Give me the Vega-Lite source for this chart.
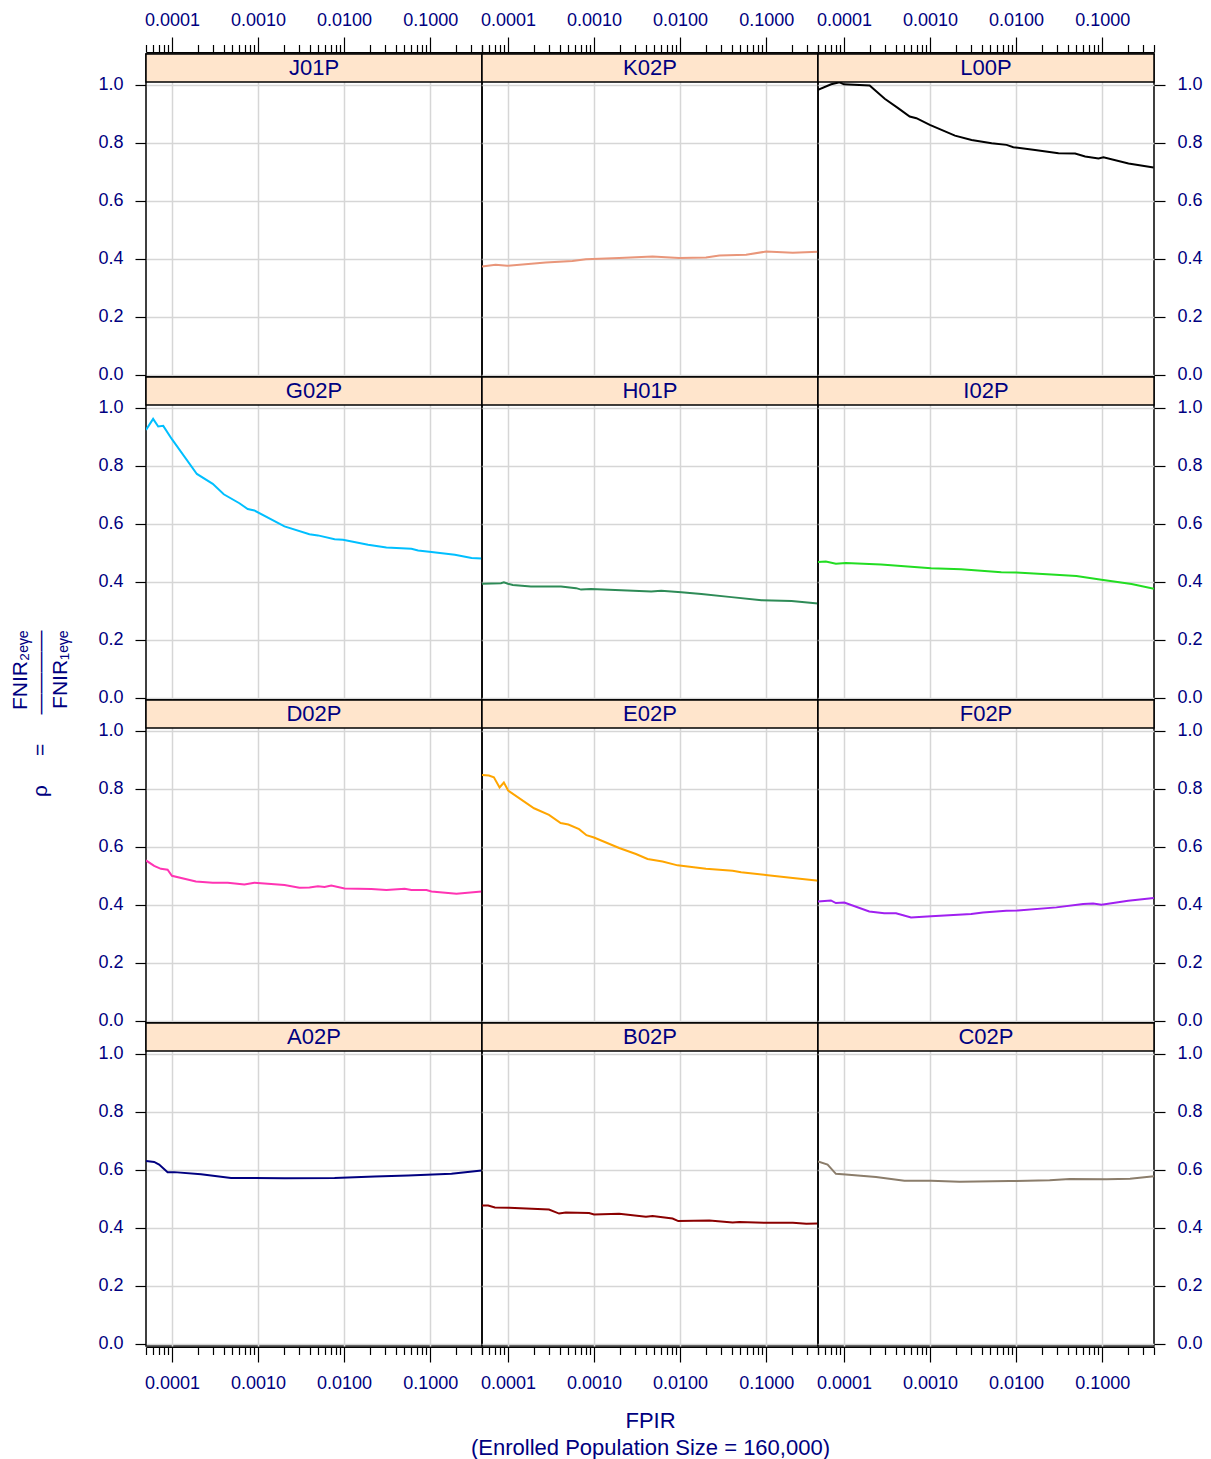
{
"$schema": "https://vega.github.io/schema/vega-lite/v6.json",
"padding": {"left": 10, "top": 10, "right": 5, "bottom": 0},
"autosize": {"type": "pad"},
"background": "white",
"title": {"text": ["FNIR₂ₑᵧₑ", "ρ\u00a0\u00a0\u00a0\u00a0\u00a0=\u00a0\u00a0\u00a0\u00a0\u00a0————", "FNIR₁ₑᵧₑ"], "orient": "left", "anchor": "middle", "align": "right", "dx": 104, "font": "Liberation Sans", "fontSize": 21, "fontWeight": "normal", "color": "#000080", "lineHeight": 20, "offset": 26},
"datasets": {"curves": [
{"panel":"K02P","fpir":0.00005,"rho":0.373},{"panel":"K02P","fpir":0.0000719,"rho":0.379},{"panel":"K02P","fpir":0.0000982,"rho":0.376},{"panel":"K02P","fpir":0.000275,"rho":0.387},{"panel":"K02P","fpir":0.000561,"rho":0.392},{"panel":"K02P","fpir":0.000804,"rho":0.398},{"panel":"K02P","fpir":0.00196,"rho":0.403},{"panel":"K02P","fpir":0.00479,"rho":0.408},{"panel":"K02P","fpir":0.00977,"rho":0.403},{"panel":"K02P","fpir":0.02,"rho":0.404},{"panel":"K02P","fpir":0.0286,"rho":0.411},{"panel":"K02P","fpir":0.0585,"rho":0.414},{"panel":"K02P","fpir":0.1,"rho":0.425},{"panel":"K02P","fpir":0.204,"rho":0.421},{"panel":"K02P","fpir":0.399,"rho":0.424},
{"panel":"L00P","fpir":0.00005,"rho":0.983},{"panel":"L00P","fpir":0.0000711,"rho":1.002},{"panel":"L00P","fpir":0.0000891,"rho":1.009},{"panel":"L00P","fpir":0.0001,"rho":1.002},{"panel":"L00P","fpir":0.000199,"rho":0.998},{"panel":"L00P","fpir":0.000298,"rho":0.952},{"panel":"L00P","fpir":0.000426,"rho":0.92},{"panel":"L00P","fpir":0.000581,"rho":0.891},{"panel":"L00P","fpir":0.000695,"rho":0.885},{"panel":"L00P","fpir":0.000995,"rho":0.862},{"panel":"L00P","fpir":0.00195,"rho":0.825},{"panel":"L00P","fpir":0.00304,"rho":0.81},{"panel":"L00P","fpir":0.0052,"rho":0.799},{"panel":"L00P","fpir":0.00776,"rho":0.793},{"panel":"L00P","fpir":0.00929,"rho":0.785},{"panel":"L00P","fpir":0.0166,"rho":0.775},{"panel":"L00P","fpir":0.0311,"rho":0.764},{"panel":"L00P","fpir":0.0485,"rho":0.763},{"panel":"L00P","fpir":0.0634,"rho":0.753},{"panel":"L00P","fpir":0.0906,"rho":0.746},{"panel":"L00P","fpir":0.1035,"rho":0.75},{"panel":"L00P","fpir":0.2023,"rho":0.729},{"panel":"L00P","fpir":0.3954,"rho":0.715},
{"panel":"G02P","fpir":0.00005,"rho":0.924},{"panel":"G02P","fpir":0.0000605,"rho":0.962},{"panel":"G02P","fpir":0.0000693,"rho":0.936},{"panel":"G02P","fpir":0.0000793,"rho":0.938},{"panel":"G02P","fpir":0.0001,"rho":0.892},{"panel":"G02P","fpir":0.000195,"rho":0.772},{"panel":"G02P","fpir":0.000298,"rho":0.738},{"panel":"G02P","fpir":0.0004,"rho":0.702},{"panel":"G02P","fpir":0.000608,"rho":0.671},{"panel":"G02P","fpir":0.00076,"rho":0.651},{"panel":"G02P","fpir":0.000908,"rho":0.646},{"panel":"G02P","fpir":0.00203,"rho":0.591},{"panel":"G02P","fpir":0.00396,"rho":0.564},{"panel":"G02P","fpir":0.00497,"rho":0.56},{"panel":"G02P","fpir":0.00776,"rho":0.547},{"panel":"G02P","fpir":0.0097,"rho":0.545},{"panel":"G02P","fpir":0.019,"rho":0.528},{"panel":"G02P","fpir":0.031,"rho":0.518},{"panel":"G02P","fpir":0.0605,"rho":0.514},{"panel":"G02P","fpir":0.0724,"rho":0.508},{"panel":"G02P","fpir":0.1035,"rho":0.503},{"panel":"G02P","fpir":0.1936,"rho":0.493},{"panel":"G02P","fpir":0.3027,"rho":0.482},{"panel":"G02P","fpir":0.3954,"rho":0.48},
{"panel":"H01P","fpir":0.00005,"rho":0.393},{"panel":"H01P","fpir":0.000083,"rho":0.395},{"panel":"H01P","fpir":0.0000897,"rho":0.398},{"panel":"H01P","fpir":0.0001,"rho":0.393},{"panel":"H01P","fpir":0.000114,"rho":0.389},{"panel":"H01P","fpir":0.000185,"rho":0.384},{"panel":"H01P","fpir":0.000414,"rho":0.384},{"panel":"H01P","fpir":0.000619,"rho":0.378},{"panel":"H01P","fpir":0.000708,"rho":0.373},{"panel":"H01P","fpir":0.000925,"rho":0.375},{"panel":"H01P","fpir":0.00207,"rho":0.371},{"panel":"H01P","fpir":0.00462,"rho":0.366},{"panel":"H01P","fpir":0.00604,"rho":0.369},{"panel":"H01P","fpir":0.01033,"rho":0.364},{"panel":"H01P","fpir":0.01766,"rho":0.358},{"panel":"H01P","fpir":0.03945,"rho":0.347},{"panel":"H01P","fpir":0.08831,"rho":0.336},{"panel":"H01P","fpir":0.1972,"rho":0.334},{"panel":"H01P","fpir":0.4,"rho":0.325},
{"panel":"I02P","fpir":0.00005,"rho":0.468},{"panel":"I02P","fpir":0.0000617,"rho":0.47},{"panel":"I02P","fpir":0.0000807,"rho":0.462},{"panel":"I02P","fpir":0.000105,"rho":0.465},{"panel":"I02P","fpir":0.00027,"rho":0.46},{"panel":"I02P","fpir":0.00103,"rho":0.447},{"panel":"I02P","fpir":0.0023,"rho":0.443},{"panel":"I02P","fpir":0.00673,"rho":0.433},{"panel":"I02P","fpir":0.01005,"rho":0.432},{"panel":"I02P","fpir":0.0257,"rho":0.425},{"panel":"I02P","fpir":0.0502,"rho":0.42},{"panel":"I02P","fpir":0.0982,"rho":0.407},{"panel":"I02P","fpir":0.2193,"rho":0.392},{"panel":"I02P","fpir":0.4,"rho":0.376},
{"panel":"D02P","fpir":0.00005,"rho":0.553},{"panel":"D02P","fpir":0.0000622,"rho":0.534},{"panel":"D02P","fpir":0.0000745,"rho":0.524},{"panel":"D02P","fpir":0.0000891,"rho":0.521},{"panel":"D02P","fpir":0.0001,"rho":0.5},{"panel":"D02P","fpir":0.00019,"rho":0.48},{"panel":"D02P","fpir":0.000298,"rho":0.476},{"panel":"D02P","fpir":0.000445,"rho":0.476},{"panel":"D02P","fpir":0.000695,"rho":0.47},{"panel":"D02P","fpir":0.000908,"rho":0.476},{"panel":"D02P","fpir":0.00203,"rho":0.468},{"panel":"D02P","fpir":0.00303,"rho":0.459},{"panel":"D02P","fpir":0.00396,"rho":0.46},{"panel":"D02P","fpir":0.00497,"rho":0.464},{"panel":"D02P","fpir":0.00593,"rho":0.461},{"panel":"D02P","fpir":0.0071,"rho":0.466},{"panel":"D02P","fpir":0.01014,"rho":0.456},{"panel":"D02P","fpir":0.02075,"rho":0.454},{"panel":"D02P","fpir":0.031,"rho":0.451},{"panel":"D02P","fpir":0.0506,"rho":0.455},{"panel":"D02P","fpir":0.0605,"rho":0.451},{"panel":"D02P","fpir":0.0906,"rho":0.451},{"panel":"D02P","fpir":0.1035,"rho":0.446},{"panel":"D02P","fpir":0.2023,"rho":0.438},{"panel":"D02P","fpir":0.3954,"rho":0.446},
{"panel":"E02P","fpir":0.00005,"rho":0.848},{"panel":"E02P","fpir":0.0000601,"rho":0.846},{"panel":"E02P","fpir":0.0000687,"rho":0.84},{"panel":"E02P","fpir":0.00008,"rho":0.805},{"panel":"E02P","fpir":0.0000897,"rho":0.822},{"panel":"E02P","fpir":0.0001007,"rho":0.794},{"panel":"E02P","fpir":0.000201,"rho":0.733},{"panel":"E02P","fpir":0.0003,"rho":0.71},{"panel":"E02P","fpir":0.00041,"rho":0.682},{"panel":"E02P","fpir":0.000504,"rho":0.677},{"panel":"E02P","fpir":0.000671,"rho":0.661},{"panel":"E02P","fpir":0.000817,"rho":0.64},{"panel":"E02P","fpir":0.001,"rho":0.632},{"panel":"E02P","fpir":0.00196,"rho":0.596},{"panel":"E02P","fpir":0.00307,"rho":0.575},{"panel":"E02P","fpir":0.00419,"rho":0.558},{"panel":"E02P","fpir":0.00625,"rho":0.549},{"panel":"E02P","fpir":0.00935,"rho":0.536},{"panel":"E02P","fpir":0.02,"rho":0.524},{"panel":"E02P","fpir":0.0408,"rho":0.517},{"panel":"E02P","fpir":0.0512,"rho":0.512},{"panel":"E02P","fpir":0.1045,"rho":0.502},{"panel":"E02P","fpir":0.2042,"rho":0.492},{"panel":"E02P","fpir":0.382,"rho":0.484},{"panel":"E02P","fpir":0.4,"rho":0.483},
{"panel":"F02P","fpir":0.00005,"rho":0.411},{"panel":"F02P","fpir":0.0000706,"rho":0.415},{"panel":"F02P","fpir":0.0000807,"rho":0.406},{"panel":"F02P","fpir":0.000101,"rho":0.408},{"panel":"F02P","fpir":0.000197,"rho":0.377},{"panel":"F02P","fpir":0.000294,"rho":0.371},{"panel":"F02P","fpir":0.000403,"rho":0.371},{"panel":"F02P","fpir":0.000603,"rho":0.356},{"panel":"F02P","fpir":0.00103,"rho":0.36},{"panel":"F02P","fpir":0.00301,"rho":0.368},{"panel":"F02P","fpir":0.00412,"rho":0.373},{"panel":"F02P","fpir":0.00769,"rho":0.379},{"panel":"F02P","fpir":0.01052,"rho":0.38},{"panel":"F02P","fpir":0.0294,"rho":0.391},{"panel":"F02P","fpir":0.0601,"rho":0.403},{"panel":"F02P","fpir":0.0785,"rho":0.404},{"panel":"F02P","fpir":0.0982,"rho":0.4},{"panel":"F02P","fpir":0.2004,"rho":0.414},{"panel":"F02P","fpir":0.398,"rho":0.423},
{"panel":"A02P","fpir":0.00005,"rho":0.63},{"panel":"A02P","fpir":0.0000622,"rho":0.627},{"panel":"A02P","fpir":0.0000711,"rho":0.618},{"panel":"A02P","fpir":0.0000891,"rho":0.592},{"panel":"A02P","fpir":0.000106,"rho":0.592},{"panel":"A02P","fpir":0.000218,"rho":0.585},{"panel":"A02P","fpir":0.000486,"rho":0.572},{"panel":"A02P","fpir":0.000908,"rho":0.572},{"panel":"A02P","fpir":0.00203,"rho":0.571},{"panel":"A02P","fpir":0.00776,"rho":0.572},{"panel":"A02P","fpir":0.0227,"rho":0.577},{"panel":"A02P","fpir":0.0555,"rho":0.58},{"panel":"A02P","fpir":0.177,"rho":0.586},{"panel":"A02P","fpir":0.3954,"rho":0.598},
{"panel":"B02P","fpir":0.00005,"rho":0.477},{"panel":"B02P","fpir":0.000059,"rho":0.477},{"panel":"B02P","fpir":0.0000706,"rho":0.47},{"panel":"B02P","fpir":0.000103,"rho":0.469},{"panel":"B02P","fpir":0.0003,"rho":0.463},{"panel":"B02P","fpir":0.000393,"rho":0.449},{"panel":"B02P","fpir":0.00047,"rho":0.453},{"panel":"B02P","fpir":0.000877,"rho":0.451},{"panel":"B02P","fpir":0.001,"rho":0.446},{"panel":"B02P","fpir":0.00196,"rho":0.448},{"panel":"B02P","fpir":0.00401,"rho":0.438},{"panel":"B02P","fpir":0.00479,"rho":0.441},{"panel":"B02P","fpir":0.00818,"rho":0.432},{"panel":"B02P","fpir":0.00953,"rho":0.423},{"panel":"B02P","fpir":0.02188,"rho":0.425},{"panel":"B02P","fpir":0.0408,"rho":0.418},{"panel":"B02P","fpir":0.0489,"rho":0.42},{"panel":"B02P","fpir":0.1,"rho":0.417},{"panel":"B02P","fpir":0.2042,"rho":0.417},{"panel":"B02P","fpir":0.2924,"rho":0.414},{"panel":"B02P","fpir":0.399,"rho":0.415},
{"panel":"C02P","fpir":0.00005,"rho":0.629},{"panel":"C02P","fpir":0.0000646,"rho":0.618},{"panel":"C02P","fpir":0.0000807,"rho":0.586},{"panel":"C02P","fpir":0.000105,"rho":0.584},{"panel":"C02P","fpir":0.000236,"rho":0.575},{"panel":"C02P","fpir":0.000504,"rho":0.562},{"panel":"C02P","fpir":0.00103,"rho":0.562},{"panel":"C02P","fpir":0.0022,"rho":0.559},{"panel":"C02P","fpir":0.00839,"rho":0.561},{"panel":"C02P","fpir":0.02455,"rho":0.564},{"panel":"C02P","fpir":0.042,"rho":0.568},{"panel":"C02P","fpir":0.1125,"rho":0.567},{"panel":"C02P","fpir":0.2104,"rho":0.569},{"panel":"C02P","fpir":0.4,"rho":0.578}
]},
"spacing": 0,
"bounds": "flush",
"columns": 3,
"concat": [
 {"width": 336, "height": 323, "layer": [
  {"data": {"name": "curves"}, "transform": [{"filter": "datum.panel === 'J01P'"}], "mark": {"type": "line", "color": "#000000", "clip": true},
   "encoding": {"x": {"field": "fpir", "type": "quantitative", "scale": {"type": "log", "domain": [0.00005, 0.4], "nice": false}, "axis": {"orient": "top", "title": null, "values": [0.00005,0.00006,0.00007,0.00008,0.00009,0.0001,0.0002,0.0003,0.0004,0.0005,0.0006,0.0007,0.0008,0.0009,0.001,0.002,0.003,0.004,0.005,0.006,0.007,0.008,0.009,0.01,0.02,0.03,0.04,0.05,0.06,0.07,0.08,0.09,0.1,0.2,0.3,0.4], "format": ".4f", "labelExpr": "abs(log(datum.value)/LN10-round(log(datum.value)/LN10))<0.001 ? datum.label : ''", "tickSize": {"condition": {"test": "abs(log(datum.value)/LN10-round(log(datum.value)/LN10))<0.001", "value": 15}, "value": 7.5}, "gridOpacity": {"condition": {"test": "abs(log(datum.value)/LN10-round(log(datum.value)/LN10))<0.001", "value": 1}, "value": 0}, "grid": true, "domain": true, "offset": 2, "labelPadding": 8}},
    "y": {"field": "rho", "type": "quantitative", "scale": {"domain": [-0.008, 1.1066], "nice": false, "zero": false}, "axis": {"orient": "left", "title": null, "values": [0,0.1,0.2,0.3,0.4,0.5,0.6,0.7,0.8,0.9,1], "labelExpr": "round(datum.value*10)%2==0 ? format(datum.value,'.1f') : ''", "tickOpacity": {"condition": {"test": "round(datum.value*10)%2==1", "value": 0}, "value": 1}, "tickSize": 11, "labelPadding": 12, "grid": true, "domain": false}}}},
  {"data": {"values": [{"panel": "J01P"}]}, "mark": {"type": "rect", "fill": "#ffe5cc", "stroke": "#000000", "strokeWidth": 1.5}, "encoding": {"x": {"datum": 0.00005}, "x2": {"datum": 0.4}, "y": {"datum": 1.01}, "y2": {"datum": 1.1066}}},
  {"data": {"values": [{"panel": "J01P"}]}, "mark": {"type": "text", "color": "#000080", "fontSize": 22, "baseline": "middle", "align": "center"}, "encoding": {"x": {"datum": 0.004472}, "y": {"datum": 1.058}, "text": {"field": "panel", "type": "nominal"}}}
 ]},
 {"width": 336, "height": 323, "layer": [
  {"data": {"name": "curves"}, "transform": [{"filter": "datum.panel === 'K02P'"}], "mark": {"type": "line", "color": "#e9967a", "clip": true},
   "encoding": {"x": {"field": "fpir", "type": "quantitative", "scale": {"type": "log", "domain": [0.00005, 0.4], "nice": false}, "axis": {"orient": "top", "title": null, "values": [0.00005,0.00006,0.00007,0.00008,0.00009,0.0001,0.0002,0.0003,0.0004,0.0005,0.0006,0.0007,0.0008,0.0009,0.001,0.002,0.003,0.004,0.005,0.006,0.007,0.008,0.009,0.01,0.02,0.03,0.04,0.05,0.06,0.07,0.08,0.09,0.1,0.2,0.3,0.4], "format": ".4f", "labelExpr": "abs(log(datum.value)/LN10-round(log(datum.value)/LN10))<0.001 ? datum.label : ''", "tickSize": {"condition": {"test": "abs(log(datum.value)/LN10-round(log(datum.value)/LN10))<0.001", "value": 15}, "value": 7.5}, "gridOpacity": {"condition": {"test": "abs(log(datum.value)/LN10-round(log(datum.value)/LN10))<0.001", "value": 1}, "value": 0}, "grid": true, "domain": true, "offset": 2, "labelPadding": 8}},
    "y": {"field": "rho", "type": "quantitative", "scale": {"domain": [-0.008, 1.1066], "nice": false, "zero": false}, "axis": {"orient": "left", "title": null, "values": [0,0.1,0.2,0.3,0.4,0.5,0.6,0.7,0.8,0.9,1], "labels": false, "ticks": false, "grid": true, "domain": false}}}},
  {"data": {"values": [{"panel": "K02P"}]}, "mark": {"type": "rect", "fill": "#ffe5cc", "stroke": "#000000", "strokeWidth": 1.5}, "encoding": {"x": {"datum": 0.00005}, "x2": {"datum": 0.4}, "y": {"datum": 1.01}, "y2": {"datum": 1.1066}}},
  {"data": {"values": [{"panel": "K02P"}]}, "mark": {"type": "text", "color": "#000080", "fontSize": 22, "baseline": "middle", "align": "center"}, "encoding": {"x": {"datum": 0.004472}, "y": {"datum": 1.058}, "text": {"field": "panel", "type": "nominal"}}}
 ]},
 {"width": 336, "height": 323, "layer": [
  {"data": {"name": "curves"}, "transform": [{"filter": "datum.panel === 'L00P'"}], "mark": {"type": "line", "color": "#000000", "clip": true},
   "encoding": {"x": {"field": "fpir", "type": "quantitative", "scale": {"type": "log", "domain": [0.00005, 0.4], "nice": false}, "axis": {"orient": "top", "title": null, "values": [0.00005,0.00006,0.00007,0.00008,0.00009,0.0001,0.0002,0.0003,0.0004,0.0005,0.0006,0.0007,0.0008,0.0009,0.001,0.002,0.003,0.004,0.005,0.006,0.007,0.008,0.009,0.01,0.02,0.03,0.04,0.05,0.06,0.07,0.08,0.09,0.1,0.2,0.3,0.4], "format": ".4f", "labelExpr": "abs(log(datum.value)/LN10-round(log(datum.value)/LN10))<0.001 ? datum.label : ''", "tickSize": {"condition": {"test": "abs(log(datum.value)/LN10-round(log(datum.value)/LN10))<0.001", "value": 15}, "value": 7.5}, "gridOpacity": {"condition": {"test": "abs(log(datum.value)/LN10-round(log(datum.value)/LN10))<0.001", "value": 1}, "value": 0}, "grid": true, "domain": true, "offset": 2, "labelPadding": 8}},
    "y": {"field": "rho", "type": "quantitative", "scale": {"domain": [-0.008, 1.1066], "nice": false, "zero": false}, "axis": {"orient": "right", "title": null, "values": [0,0.1,0.2,0.3,0.4,0.5,0.6,0.7,0.8,0.9,1], "labelExpr": "round(datum.value*10)%2==0 ? format(datum.value,'.1f') : ''", "tickOpacity": {"condition": {"test": "round(datum.value*10)%2==1", "value": 0}, "value": 1}, "tickSize": 11, "labelPadding": 12, "grid": true, "domain": false}}}},
  {"data": {"values": [{"panel": "L00P"}]}, "mark": {"type": "rect", "fill": "#ffe5cc", "stroke": "#000000", "strokeWidth": 1.5}, "encoding": {"x": {"datum": 0.00005}, "x2": {"datum": 0.4}, "y": {"datum": 1.01}, "y2": {"datum": 1.1066}}},
  {"data": {"values": [{"panel": "L00P"}]}, "mark": {"type": "text", "color": "#000080", "fontSize": 22, "baseline": "middle", "align": "center"}, "encoding": {"x": {"datum": 0.004472}, "y": {"datum": 1.058}, "text": {"field": "panel", "type": "nominal"}}}
 ]},
 {"width": 336, "height": 323, "layer": [
  {"data": {"name": "curves"}, "transform": [{"filter": "datum.panel === 'G02P'"}], "mark": {"type": "line", "color": "#00bfff", "clip": true},
   "encoding": {"x": {"field": "fpir", "type": "quantitative", "scale": {"type": "log", "domain": [0.00005, 0.4], "nice": false}, "axis": {"orient": "bottom", "title": null, "values": [0.0001,0.001,0.01,0.1], "labels": false, "ticks": false, "domain": false, "grid": true}},
    "y": {"field": "rho", "type": "quantitative", "scale": {"domain": [-0.008, 1.1066], "nice": false, "zero": false}, "axis": {"orient": "left", "title": null, "values": [0,0.1,0.2,0.3,0.4,0.5,0.6,0.7,0.8,0.9,1], "labelExpr": "round(datum.value*10)%2==0 ? format(datum.value,'.1f') : ''", "tickOpacity": {"condition": {"test": "round(datum.value*10)%2==1", "value": 0}, "value": 1}, "tickSize": 11, "labelPadding": 12, "grid": true, "domain": false}}}},
  {"data": {"values": [{"panel": "G02P"}]}, "mark": {"type": "rect", "fill": "#ffe5cc", "stroke": "#000000", "strokeWidth": 1.5}, "encoding": {"x": {"datum": 0.00005}, "x2": {"datum": 0.4}, "y": {"datum": 1.01}, "y2": {"datum": 1.1066}}},
  {"data": {"values": [{"panel": "G02P"}]}, "mark": {"type": "text", "color": "#000080", "fontSize": 22, "baseline": "middle", "align": "center"}, "encoding": {"x": {"datum": 0.004472}, "y": {"datum": 1.058}, "text": {"field": "panel", "type": "nominal"}}}
 ]},
 {"width": 336, "height": 323, "layer": [
  {"data": {"name": "curves"}, "transform": [{"filter": "datum.panel === 'H01P'"}], "mark": {"type": "line", "color": "#2e8b57", "clip": true},
   "encoding": {"x": {"field": "fpir", "type": "quantitative", "scale": {"type": "log", "domain": [0.00005, 0.4], "nice": false}, "axis": {"orient": "bottom", "title": null, "values": [0.0001,0.001,0.01,0.1], "labels": false, "ticks": false, "domain": false, "grid": true}},
    "y": {"field": "rho", "type": "quantitative", "scale": {"domain": [-0.008, 1.1066], "nice": false, "zero": false}, "axis": {"orient": "left", "title": null, "values": [0,0.1,0.2,0.3,0.4,0.5,0.6,0.7,0.8,0.9,1], "labels": false, "ticks": false, "grid": true, "domain": false}}}},
  {"data": {"values": [{"panel": "H01P"}]}, "mark": {"type": "rect", "fill": "#ffe5cc", "stroke": "#000000", "strokeWidth": 1.5}, "encoding": {"x": {"datum": 0.00005}, "x2": {"datum": 0.4}, "y": {"datum": 1.01}, "y2": {"datum": 1.1066}}},
  {"data": {"values": [{"panel": "H01P"}]}, "mark": {"type": "text", "color": "#000080", "fontSize": 22, "baseline": "middle", "align": "center"}, "encoding": {"x": {"datum": 0.004472}, "y": {"datum": 1.058}, "text": {"field": "panel", "type": "nominal"}}}
 ]},
 {"width": 336, "height": 323, "layer": [
  {"data": {"name": "curves"}, "transform": [{"filter": "datum.panel === 'I02P'"}], "mark": {"type": "line", "color": "#22dd22", "clip": true},
   "encoding": {"x": {"field": "fpir", "type": "quantitative", "scale": {"type": "log", "domain": [0.00005, 0.4], "nice": false}, "axis": {"orient": "bottom", "title": null, "values": [0.0001,0.001,0.01,0.1], "labels": false, "ticks": false, "domain": false, "grid": true}},
    "y": {"field": "rho", "type": "quantitative", "scale": {"domain": [-0.008, 1.1066], "nice": false, "zero": false}, "axis": {"orient": "right", "title": null, "values": [0,0.1,0.2,0.3,0.4,0.5,0.6,0.7,0.8,0.9,1], "labelExpr": "round(datum.value*10)%2==0 ? format(datum.value,'.1f') : ''", "tickOpacity": {"condition": {"test": "round(datum.value*10)%2==1", "value": 0}, "value": 1}, "tickSize": 11, "labelPadding": 12, "grid": true, "domain": false}}}},
  {"data": {"values": [{"panel": "I02P"}]}, "mark": {"type": "rect", "fill": "#ffe5cc", "stroke": "#000000", "strokeWidth": 1.5}, "encoding": {"x": {"datum": 0.00005}, "x2": {"datum": 0.4}, "y": {"datum": 1.01}, "y2": {"datum": 1.1066}}},
  {"data": {"values": [{"panel": "I02P"}]}, "mark": {"type": "text", "color": "#000080", "fontSize": 22, "baseline": "middle", "align": "center"}, "encoding": {"x": {"datum": 0.004472}, "y": {"datum": 1.058}, "text": {"field": "panel", "type": "nominal"}}}
 ]},
 {"width": 336, "height": 323, "layer": [
  {"data": {"name": "curves"}, "transform": [{"filter": "datum.panel === 'D02P'"}], "mark": {"type": "line", "color": "#ff34b3", "clip": true},
   "encoding": {"x": {"field": "fpir", "type": "quantitative", "scale": {"type": "log", "domain": [0.00005, 0.4], "nice": false}, "axis": {"orient": "bottom", "title": null, "values": [0.0001,0.001,0.01,0.1], "labels": false, "ticks": false, "domain": false, "grid": true}},
    "y": {"field": "rho", "type": "quantitative", "scale": {"domain": [-0.008, 1.1066], "nice": false, "zero": false}, "axis": {"orient": "left", "title": null, "values": [0,0.1,0.2,0.3,0.4,0.5,0.6,0.7,0.8,0.9,1], "labelExpr": "round(datum.value*10)%2==0 ? format(datum.value,'.1f') : ''", "tickOpacity": {"condition": {"test": "round(datum.value*10)%2==1", "value": 0}, "value": 1}, "tickSize": 11, "labelPadding": 12, "grid": true, "domain": false}}}},
  {"data": {"values": [{"panel": "D02P"}]}, "mark": {"type": "rect", "fill": "#ffe5cc", "stroke": "#000000", "strokeWidth": 1.5}, "encoding": {"x": {"datum": 0.00005}, "x2": {"datum": 0.4}, "y": {"datum": 1.01}, "y2": {"datum": 1.1066}}},
  {"data": {"values": [{"panel": "D02P"}]}, "mark": {"type": "text", "color": "#000080", "fontSize": 22, "baseline": "middle", "align": "center"}, "encoding": {"x": {"datum": 0.004472}, "y": {"datum": 1.058}, "text": {"field": "panel", "type": "nominal"}}}
 ]},
 {"width": 336, "height": 323, "layer": [
  {"data": {"name": "curves"}, "transform": [{"filter": "datum.panel === 'E02P'"}], "mark": {"type": "line", "color": "#ffa500", "clip": true},
   "encoding": {"x": {"field": "fpir", "type": "quantitative", "scale": {"type": "log", "domain": [0.00005, 0.4], "nice": false}, "axis": {"orient": "bottom", "title": null, "values": [0.0001,0.001,0.01,0.1], "labels": false, "ticks": false, "domain": false, "grid": true}},
    "y": {"field": "rho", "type": "quantitative", "scale": {"domain": [-0.008, 1.1066], "nice": false, "zero": false}, "axis": {"orient": "left", "title": null, "values": [0,0.1,0.2,0.3,0.4,0.5,0.6,0.7,0.8,0.9,1], "labels": false, "ticks": false, "grid": true, "domain": false}}}},
  {"data": {"values": [{"panel": "E02P"}]}, "mark": {"type": "rect", "fill": "#ffe5cc", "stroke": "#000000", "strokeWidth": 1.5}, "encoding": {"x": {"datum": 0.00005}, "x2": {"datum": 0.4}, "y": {"datum": 1.01}, "y2": {"datum": 1.1066}}},
  {"data": {"values": [{"panel": "E02P"}]}, "mark": {"type": "text", "color": "#000080", "fontSize": 22, "baseline": "middle", "align": "center"}, "encoding": {"x": {"datum": 0.004472}, "y": {"datum": 1.058}, "text": {"field": "panel", "type": "nominal"}}}
 ]},
 {"width": 336, "height": 323, "layer": [
  {"data": {"name": "curves"}, "transform": [{"filter": "datum.panel === 'F02P'"}], "mark": {"type": "line", "color": "#a020f0", "clip": true},
   "encoding": {"x": {"field": "fpir", "type": "quantitative", "scale": {"type": "log", "domain": [0.00005, 0.4], "nice": false}, "axis": {"orient": "bottom", "title": null, "values": [0.0001,0.001,0.01,0.1], "labels": false, "ticks": false, "domain": false, "grid": true}},
    "y": {"field": "rho", "type": "quantitative", "scale": {"domain": [-0.008, 1.1066], "nice": false, "zero": false}, "axis": {"orient": "right", "title": null, "values": [0,0.1,0.2,0.3,0.4,0.5,0.6,0.7,0.8,0.9,1], "labelExpr": "round(datum.value*10)%2==0 ? format(datum.value,'.1f') : ''", "tickOpacity": {"condition": {"test": "round(datum.value*10)%2==1", "value": 0}, "value": 1}, "tickSize": 11, "labelPadding": 12, "grid": true, "domain": false}}}},
  {"data": {"values": [{"panel": "F02P"}]}, "mark": {"type": "rect", "fill": "#ffe5cc", "stroke": "#000000", "strokeWidth": 1.5}, "encoding": {"x": {"datum": 0.00005}, "x2": {"datum": 0.4}, "y": {"datum": 1.01}, "y2": {"datum": 1.1066}}},
  {"data": {"values": [{"panel": "F02P"}]}, "mark": {"type": "text", "color": "#000080", "fontSize": 22, "baseline": "middle", "align": "center"}, "encoding": {"x": {"datum": 0.004472}, "y": {"datum": 1.058}, "text": {"field": "panel", "type": "nominal"}}}
 ]},
 {"width": 336, "height": 323, "layer": [
  {"data": {"name": "curves"}, "transform": [{"filter": "datum.panel === 'A02P'"}], "mark": {"type": "line", "color": "#000080", "clip": true},
   "encoding": {"x": {"field": "fpir", "type": "quantitative", "scale": {"type": "log", "domain": [0.00005, 0.4], "nice": false}, "axis": {"orient": "bottom", "title": null, "values": [0.00005,0.00006,0.00007,0.00008,0.00009,0.0001,0.0002,0.0003,0.0004,0.0005,0.0006,0.0007,0.0008,0.0009,0.001,0.002,0.003,0.004,0.005,0.006,0.007,0.008,0.009,0.01,0.02,0.03,0.04,0.05,0.06,0.07,0.08,0.09,0.1,0.2,0.3,0.4], "format": ".4f", "labelExpr": "abs(log(datum.value)/LN10-round(log(datum.value)/LN10))<0.001 ? datum.label : ''", "tickSize": {"condition": {"test": "abs(log(datum.value)/LN10-round(log(datum.value)/LN10))<0.001", "value": 15}, "value": 7.5}, "gridOpacity": {"condition": {"test": "abs(log(datum.value)/LN10-round(log(datum.value)/LN10))<0.001", "value": 1}, "value": 0}, "grid": true, "domain": true, "offset": 1, "labelPadding": 12}},
    "y": {"field": "rho", "type": "quantitative", "scale": {"domain": [-0.008, 1.1066], "nice": false, "zero": false}, "axis": {"orient": "left", "title": null, "values": [0,0.1,0.2,0.3,0.4,0.5,0.6,0.7,0.8,0.9,1], "labelExpr": "round(datum.value*10)%2==0 ? format(datum.value,'.1f') : ''", "tickOpacity": {"condition": {"test": "round(datum.value*10)%2==1", "value": 0}, "value": 1}, "tickSize": 11, "labelPadding": 12, "grid": true, "domain": false}}}},
  {"data": {"values": [{"panel": "A02P"}]}, "mark": {"type": "rect", "fill": "#ffe5cc", "stroke": "#000000", "strokeWidth": 1.5}, "encoding": {"x": {"datum": 0.00005}, "x2": {"datum": 0.4}, "y": {"datum": 1.01}, "y2": {"datum": 1.1066}}},
  {"data": {"values": [{"panel": "A02P"}]}, "mark": {"type": "text", "color": "#000080", "fontSize": 22, "baseline": "middle", "align": "center"}, "encoding": {"x": {"datum": 0.004472}, "y": {"datum": 1.058}, "text": {"field": "panel", "type": "nominal"}}}
 ]},
 {"width": 336, "height": 323, "layer": [
  {"data": {"name": "curves"}, "transform": [{"filter": "datum.panel === 'B02P'"}], "mark": {"type": "line", "color": "#8b0000", "clip": true},
   "encoding": {"x": {"field": "fpir", "type": "quantitative", "scale": {"type": "log", "domain": [0.00005, 0.4], "nice": false}, "axis": {"orient": "bottom", "title": ["FPIR", "(Enrolled Population Size = 160,000)"], "titlePadding": 18, "titleLineHeight": 27, "values": [0.00005,0.00006,0.00007,0.00008,0.00009,0.0001,0.0002,0.0003,0.0004,0.0005,0.0006,0.0007,0.0008,0.0009,0.001,0.002,0.003,0.004,0.005,0.006,0.007,0.008,0.009,0.01,0.02,0.03,0.04,0.05,0.06,0.07,0.08,0.09,0.1,0.2,0.3,0.4], "format": ".4f", "labelExpr": "abs(log(datum.value)/LN10-round(log(datum.value)/LN10))<0.001 ? datum.label : ''", "tickSize": {"condition": {"test": "abs(log(datum.value)/LN10-round(log(datum.value)/LN10))<0.001", "value": 15}, "value": 7.5}, "gridOpacity": {"condition": {"test": "abs(log(datum.value)/LN10-round(log(datum.value)/LN10))<0.001", "value": 1}, "value": 0}, "grid": true, "domain": true, "offset": 1, "labelPadding": 12}},
    "y": {"field": "rho", "type": "quantitative", "scale": {"domain": [-0.008, 1.1066], "nice": false, "zero": false}, "axis": {"orient": "left", "title": null, "values": [0,0.1,0.2,0.3,0.4,0.5,0.6,0.7,0.8,0.9,1], "labels": false, "ticks": false, "grid": true, "domain": false}}}},
  {"data": {"values": [{"panel": "B02P"}]}, "mark": {"type": "rect", "fill": "#ffe5cc", "stroke": "#000000", "strokeWidth": 1.5}, "encoding": {"x": {"datum": 0.00005}, "x2": {"datum": 0.4}, "y": {"datum": 1.01}, "y2": {"datum": 1.1066}}},
  {"data": {"values": [{"panel": "B02P"}]}, "mark": {"type": "text", "color": "#000080", "fontSize": 22, "baseline": "middle", "align": "center"}, "encoding": {"x": {"datum": 0.004472}, "y": {"datum": 1.058}, "text": {"field": "panel", "type": "nominal"}}}
 ]},
 {"width": 336, "height": 323, "layer": [
  {"data": {"name": "curves"}, "transform": [{"filter": "datum.panel === 'C02P'"}], "mark": {"type": "line", "color": "#8b7d6b", "clip": true},
   "encoding": {"x": {"field": "fpir", "type": "quantitative", "scale": {"type": "log", "domain": [0.00005, 0.4], "nice": false}, "axis": {"orient": "bottom", "title": null, "values": [0.00005,0.00006,0.00007,0.00008,0.00009,0.0001,0.0002,0.0003,0.0004,0.0005,0.0006,0.0007,0.0008,0.0009,0.001,0.002,0.003,0.004,0.005,0.006,0.007,0.008,0.009,0.01,0.02,0.03,0.04,0.05,0.06,0.07,0.08,0.09,0.1,0.2,0.3,0.4], "format": ".4f", "labelExpr": "abs(log(datum.value)/LN10-round(log(datum.value)/LN10))<0.001 ? datum.label : ''", "tickSize": {"condition": {"test": "abs(log(datum.value)/LN10-round(log(datum.value)/LN10))<0.001", "value": 15}, "value": 7.5}, "gridOpacity": {"condition": {"test": "abs(log(datum.value)/LN10-round(log(datum.value)/LN10))<0.001", "value": 1}, "value": 0}, "grid": true, "domain": true, "offset": 1, "labelPadding": 12}},
    "y": {"field": "rho", "type": "quantitative", "scale": {"domain": [-0.008, 1.1066], "nice": false, "zero": false}, "axis": {"orient": "right", "title": null, "values": [0,0.1,0.2,0.3,0.4,0.5,0.6,0.7,0.8,0.9,1], "labelExpr": "round(datum.value*10)%2==0 ? format(datum.value,'.1f') : ''", "tickOpacity": {"condition": {"test": "round(datum.value*10)%2==1", "value": 0}, "value": 1}, "tickSize": 11, "labelPadding": 12, "grid": true, "domain": false}}}},
  {"data": {"values": [{"panel": "C02P"}]}, "mark": {"type": "rect", "fill": "#ffe5cc", "stroke": "#000000", "strokeWidth": 1.5}, "encoding": {"x": {"datum": 0.00005}, "x2": {"datum": 0.4}, "y": {"datum": 1.01}, "y2": {"datum": 1.1066}}},
  {"data": {"values": [{"panel": "C02P"}]}, "mark": {"type": "text", "color": "#000080", "fontSize": 22, "baseline": "middle", "align": "center"}, "encoding": {"x": {"datum": 0.004472}, "y": {"datum": 1.058}, "text": {"field": "panel", "type": "nominal"}}}
 ]}
],
"config": {
 "font": "Liberation Sans",
 "view": {"stroke": "#000000", "strokeWidth": 1.5},
 "axis": {"labelFont": "Liberation Sans", "labelFontSize": 18, "labelColor": "#000080", "tickColor": "#000000", "tickWidth": 1.2, "domainColor": "#000000", "domainWidth": 1.2, "gridColor": "#d6d6d6", "gridWidth": 1.5, "minExtent": 0, "titleFont": "Liberation Sans", "titleFontSize": 22, "titleColor": "#000080", "titleFontWeight": "normal", "labelFlush": false, "labelOverlap": false},
 "line": {"strokeWidth": 2}
}
}
